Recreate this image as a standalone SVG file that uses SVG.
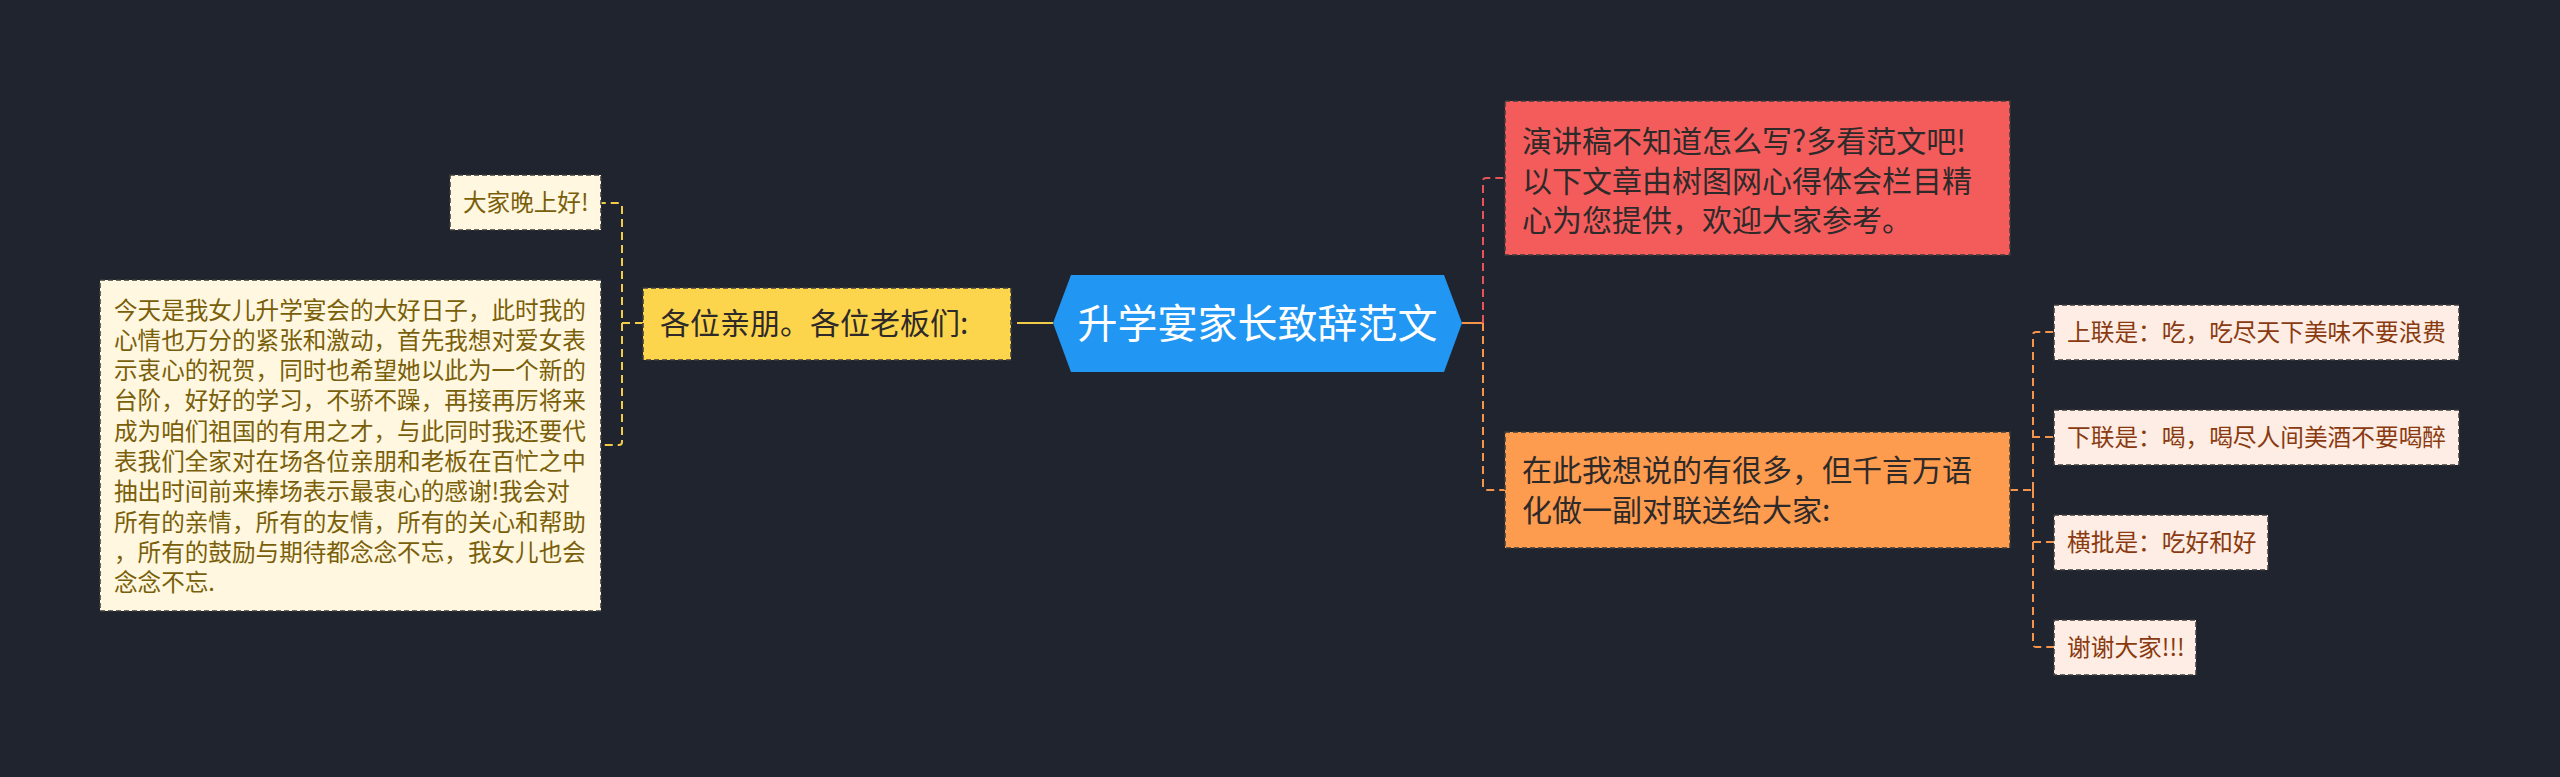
<svg xmlns="http://www.w3.org/2000/svg" width="2560" height="777" viewBox="0 0 2560 777">
<style>
.t{font-family:"Noto Sans CJK SC","Noto Sans",sans-serif;}
.box{stroke:#3b3b3b;stroke-width:1.5;stroke-dasharray:5 3;}
.c{fill:none;stroke-width:2;stroke-dasharray:8 5;stroke-linejoin:round;}
.s{fill:none;stroke-width:2;}
.para{font-size:23.6px;fill:#7a5f0a;}
.big{font-size:30px;fill:#2e2a2a;}
.sm{font-size:23.7px;fill:#8a3a10;}
</style>
<rect width="2560" height="777" fill="#20242f"/>
<g id="connectors">
  <path class="c" stroke="#f2cc48" d="M1025 323 H1011"/>
  <path class="s" stroke="#f2cc48" d="M1053 323 H1025"/>
  <path class="c" stroke="#f2cc48" d="M643 323 H622 V206 Q622 203 619 203 H601"/>
  <path class="c" stroke="#f2cc48" d="M622 323 V442 Q622 445 619 445 H601"/>
  <path class="s" stroke="#f5954c" d="M1462 323 H1483"/>
  <path class="c" stroke="#e8535b" d="M1483 323 V181 Q1483 178 1486 178 H1505"/>
  <path class="c" stroke="#f5954c" d="M1483 323 V487 Q1483 490 1486 490 H1505"/>
  <path class="c" stroke="#f5954c" d="M2010 490 H2033"/>
  <path class="c" stroke="#f5954c" d="M2033 490 V335 Q2033 332 2036 332 H2054"/>
  <path class="c" stroke="#f5954c" d="M2033 490 V437 H2054"/>
  <path class="c" stroke="#f5954c" d="M2033 490 V542 H2054"/>
  <path class="c" stroke="#f5954c" d="M2033 490 V644 Q2033 647 2036 647 H2054"/>
</g>
<g id="center">
  <polygon points="1053,323 1071,275 1444,275 1462,323 1444,372 1071,372" fill="#2196f3"/>
  <text class="t" x="1257.5" y="338" font-size="40" fill="#ffffff" text-anchor="middle">升学宴家长致辞范文</text>
</g>
<g id="n-left">
  <rect class="box" x="643" y="288" width="368" height="72" fill="#fdd54c"/>
  <text class="t big" x="660" y="334">各位亲朋。各位老板们:</text>
</g>
<g id="n-hello">
  <rect class="box" x="450" y="175" width="151" height="55" fill="#fff7df"/>
  <text class="t para" x="463" y="211">大家晚上好!</text>
</g>
<g id="n-para">
  <rect class="box" x="100" y="280" width="501" height="331" fill="#fff7df"/>
  <text class="t para">
    <tspan x="114" y="318.5">今天是我女儿升学宴会的大好日子，此时我的</tspan>
    <tspan x="114" y="348.8">心情也万分的紧张和激动，首先我想对爱女表</tspan>
    <tspan x="114" y="379.1">示衷心的祝贺，同时也希望她以此为一个新的</tspan>
    <tspan x="114" y="409.4">台阶，好好的学习，不骄不躁，再接再厉将来</tspan>
    <tspan x="114" y="439.7">成为咱们祖国的有用之才，与此同时我还要代</tspan>
    <tspan x="114" y="470">表我们全家对在场各位亲朋和老板在百忙之中</tspan>
    <tspan x="114" y="500.3">抽出时间前来捧场表示最衷心的感谢!我会对</tspan>
    <tspan x="114" y="530.6">所有的亲情，所有的友情，所有的关心和帮助</tspan>
    <tspan x="114" y="560.9">，所有的鼓励与期待都念念不忘，我女儿也会</tspan>
    <tspan x="114" y="591.2">念念不忘.</tspan>
  </text>
</g>
<g id="n-red">
  <rect class="box" x="1505" y="101" width="505" height="154" fill="#f45c5c"/>
  <text class="t big">
    <tspan x="1522" y="152">演讲稿不知道怎么写?多看范文吧!</tspan>
    <tspan x="1522" y="191.5">以下文章由树图网心得体会栏目精</tspan>
    <tspan x="1522" y="231">心为您提供，欢迎大家参考。</tspan>
  </text>
</g>
<g id="n-orange">
  <rect class="box" x="1505" y="432" width="505" height="116" fill="#fd9b4f"/>
  <text class="t big">
    <tspan x="1522" y="481">在此我想说的有很多，但千言万语</tspan>
    <tspan x="1522" y="521">化做一副对联送给大家:</tspan>
  </text>
</g>
<g id="n-up">
  <rect class="box" x="2054" y="305" width="405" height="55" fill="#fdede4"/>
  <text class="t sm" x="2067" y="341">上联是：吃，吃尽天下美味不要浪费</text>
</g>
<g id="n-down">
  <rect class="box" x="2054" y="410" width="405" height="55" fill="#fdede4"/>
  <text class="t sm" x="2067" y="446">下联是：喝，喝尽人间美酒不要喝醉</text>
</g>
<g id="n-hp">
  <rect class="box" x="2054" y="515" width="214" height="55" fill="#fdede4"/>
  <text class="t sm" x="2067" y="551">横批是：吃好和好</text>
</g>
<g id="n-thx">
  <rect class="box" x="2054" y="620" width="142" height="55" fill="#fdede4"/>
  <text class="t sm" x="2067" y="656">谢谢大家!!!</text>
</g>
</svg>
